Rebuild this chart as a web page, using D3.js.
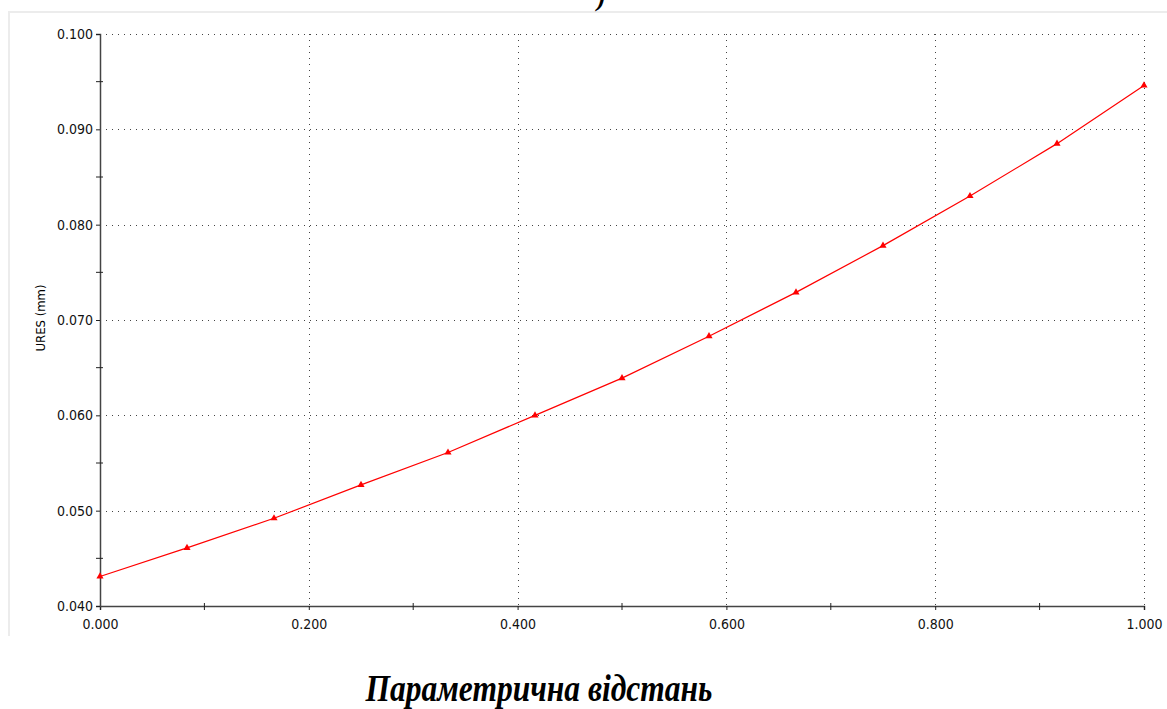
<!DOCTYPE html>
<html lang="uk">
<head>
  <meta charset="UTF-8" />
  <title>URES vs parametric distance</title>
  <style>
    body { margin: 0; background: #fff; overflow: hidden; }
    svg { display: block; }
    .tick text { font-family: "DejaVu Sans Condensed", "DejaVu Sans", sans-serif; font-stretch: condensed; font-size: 14px; fill: #111; }
  </style>
  <script src="https://cdn.jsdelivr.net/npm/d3@7"></script>
</head>
<body>
  <div id="chart"></div>
  <script>
    // parametric distance of the sample points (13 points, step 1/12)
    const params = [0, 1/12, 2/12, 3/12, 4/12, 5/12, 6/12, 7/12, 8/12, 9/12, 10/12, 11/12, 1];
    // URES (mm)
    const ures = [0.0431, 0.0461, 0.0492, 0.0527, 0.0561, 0.0600, 0.0639, 0.0683, 0.0729, 0.0778, 0.0830, 0.0885, 0.0946];
    const xTicks = [0, 0.2, 0.4, 0.6, 0.8, 1.0];
    const xMinor = [0.1, 0.3, 0.5, 0.7, 0.9];
    const yTicks = [0.04, 0.05, 0.06, 0.07, 0.08, 0.09, 0.1];
    const yMinor = [0.045, 0.055, 0.065, 0.075, 0.085, 0.095];
    const yLabel = 'URES (mm)';
    const xTitle = 'Параметрична відстань';

    const width = 1167, height = 709;
    const svg = d3.select('#chart').append('svg')
      .attr('width', width).attr('height', height);

    // light frame of the cropped screenshot
    svg.append('path')
      .attr('d', 'M9,636 V12 H1167')
      .attr('fill', 'none').attr('stroke', '#ececec').attr('stroke-width', 2);

    // piece of the caption above, cut off by the crop (as in the original)
    svg.append('text')
      .attr('x', 597).attr('y', 6)
      .attr('font-family', '"Liberation Serif", "Times New Roman", serif')
      .attr('font-size', 26).attr('font-style', 'italic').attr('font-weight', 'bold')
      .text(')');

    const x = d3.scaleLinear().domain([0, 1]).range([100, 1144]);
    const y = d3.scaleLinear().domain([0.04, 0.1]).range([606, 34]);

    // dotted grid
    const grid = svg.append('g').attr('stroke', '#444').attr('stroke-width', 1)
      .attr('stroke-dasharray', '1,5').attr('shape-rendering', 'crispEdges');
    grid.selectAll('.gx').data(xTicks.slice(1)).join('line')
      .attr('x1', d => Math.round(x(d)) + 0.5).attr('x2', d => Math.round(x(d)) + 0.5)
      .attr('y1', y(0.1)).attr('y2', y(0.04));
    grid.selectAll('.gy').data(yTicks.slice(1)).join('line')
      .attr('y1', d => Math.round(y(d)) + 0.5).attr('y2', d => Math.round(y(d)) + 0.5)
      .attr('x1', x(0)).attr('x2', x(1));

    // axes
    const xAxis = svg.append('g').attr('transform', `translate(0,${y(0.04)})`)
      .call(d3.axisBottom(x).tickValues(xTicks).tickFormat(d3.format('.3f')).tickSize(4).tickPadding(8));
    const yAxis = svg.append('g').attr('transform', `translate(${x(0)},0)`)
      .call(d3.axisLeft(y).tickValues(yTicks).tickFormat(d3.format('.3f')).tickSize(4).tickPadding(3));
    [xAxis, yAxis].forEach(a => {
      a.select('.domain').attr('stroke', '#444').attr('stroke-width', 1.5);
      a.selectAll('.tick line').attr('stroke', '#222');
    });
    xAxis.selectAll('.tick text').attr('dy', '0.8em');

    // minor ticks crossing the axes
    svg.append('g').selectAll('line').data(xMinor).join('line')
      .attr('x1', d => x(d)).attr('x2', d => x(d))
      .attr('y1', y(0.04) - 3).attr('y2', y(0.04) + 4)
      .attr('stroke', '#222');
    svg.append('g').selectAll('line').data(yMinor).join('line')
      .attr('y1', d => y(d)).attr('y2', d => y(d))
      .attr('x1', x(0) - 4).attr('x2', x(0) + 3)
      .attr('stroke', '#222');

    // y label
    svg.append('text')
      .attr('transform', `translate(45,318) rotate(-90)`)
      .attr('text-anchor', 'middle')
      .attr('font-family', '"DejaVu Sans Condensed", "DejaVu Sans", sans-serif')
      .attr('font-size', 13)
      .text(yLabel);

    // series
    const pts = params.map((p, i) => [p, ures[i]]);
    svg.append('path')
      .datum(pts)
      .attr('fill', 'none').attr('stroke', '#ff0000').attr('stroke-width', 1.2)
      .attr('d', d3.line().x(d => x(d[0])).y(d => y(d[1])));
    svg.append('g').selectAll('path').data(pts).join('path')
      .attr('transform', d => `translate(${x(d[0])},${y(d[1])})`)
      .attr('d', d3.symbol(d3.symbolTriangle, 22))
      .attr('fill', '#ff0000');

    // x title
    svg.append('text')
      .attr('x', 539).attr('y', 701)
      .attr('text-anchor', 'middle')
      .attr('font-family', '"Liberation Serif", "Times New Roman", serif')
      .attr('font-size', 37).attr('font-style', 'italic').attr('font-weight', 'bold')
      .attr('textLength', 347).attr('lengthAdjust', 'spacingAndGlyphs')
      .text(xTitle);
  </script>
</body>
</html>
